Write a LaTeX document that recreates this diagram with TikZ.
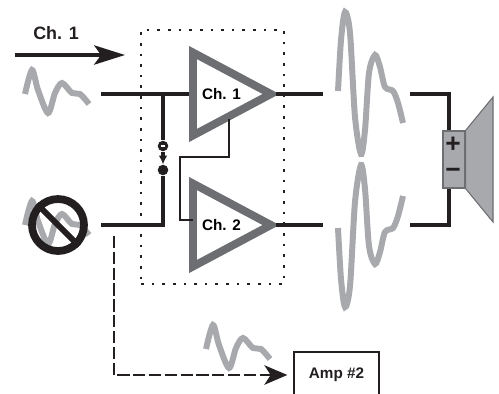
\documentclass[tikz,border=0pt]{standalone}
\usepackage{fontspec}
\setmainfont{Liberation Sans}
\usetikzlibrary{arrows.meta,positioning,shapes.geometric}
\definecolor{wiregray}{HTML}{231F20}
\definecolor{ampgray}{HTML}{6D6E71}
\definecolor{wavegray}{HTML}{A7A9AC}
\newcommand{\smallwave}{plot[smooth] coordinates {(25,94) (32,70) (38,90) (48,113) (55,93) (62,83) (72,93) (80,94) (89,104)}}
\newcommand{\bigwave}{plot[smooth] coordinates {(338,91) (341,40) (345,12) (350,33) (355,117) (361,154) (365,130) (369,73) (375,55) (380,67) (385,87) (393,91) (398,103) (403,123)}}

\begin{document}
\begin{tikzpicture}[
    x=0.02cm, y=-0.02cm,
    wire/.style={draw=wiregray, line width=1.8pt},
    thinwire/.style={draw=wiregray, line width=1.2pt},
    wave/.style={draw=wavegray, line width=3.4pt},
    ampbox/.style={draw=ampgray, line width=4.5pt, isosceles triangle, isosceles triangle stretches, shape border rotate=0, minimum width=1.66cm, minimum height=1.56cm, inner sep=0pt, anchor=lower side, font=\bfseries\fontsize{8.7}{10}\selectfont},
    term/.style={circle, fill=wiregray, minimum size=6pt, inner sep=0pt},
    lbl/.style={font=\bfseries\fontsize{10.2}{12}\selectfont, text=wiregray},
    sign/.style={font=\bfseries\fontsize{15}{15}\selectfont, text=wiregray, inner sep=0pt}
]
\clip (0,0) rectangle (499,393);

% input waves
\draw[wave] \smallwave;
\draw[wave, shift={(0,131)}] \smallwave;
\draw[wave, shift={(181,255)}] \smallwave;

% output waves
\draw[wave] \bigwave;
\draw[wave, shift={(0,319)}, yscale=-1] \bigwave;

% dotted frame
\node[draw=wiregray, line width=1.5pt, dash pattern=on 1.5pt off 4.55pt, minimum width=2.86cm, minimum height=5.08cm, inner sep=0pt] (frame) at (212.5,157) {};

% channel arrow
\node[lbl] (ch1) at (56,33) {Ch. 1};
\coordinate (arrowin) at (15,55);
\coordinate (arrowout) at (125,55);
\draw[wire, -{Stealth[length=17.6pt, width=11pt, inset=4pt]}] (arrowin) -- (arrowout);

% amplifiers
\node[ampbox] (amp1) at (189,94) {Ch. 1};
\node[ampbox] (amp2) at (189,225) {Ch. 2};

% input wires
\coordinate (in1) at (101,94);
\coordinate (in2) at (101,225);
\coordinate (joint1) at (163,94);
\coordinate (joint2) at (163,225);
\node[term] (sw1) at (163,146) {};
\node[term] (sw2) at (163,170) {};
\draw[wire] (in1) -- (amp1.lower side);
\draw[wire] (in2) -- (joint2) -- (sw2);
\draw[wire] (joint1) -- (sw1);
\draw[wire, -{Latex[length=5pt, width=5pt]}] (sw1) -- (sw2);
\draw[white, line width=0.7pt] ([xshift=-1pt]sw1.center) -- ([xshift=1pt]sw1.center);

% link between amps
\coordinate (link1) at (229,119);
\coordinate (link2) at (229,157);
\coordinate (link3) at (180,157);
\coordinate (link4) at (180,220);
\coordinate (link5) at (193,220);
\draw[thinwire] (link1) -- (link2) -- (link3) -- (link4) -- (link5);

% speaker
\node[draw=ampgray, fill=wavegray, line width=0.8pt, minimum width=0.44cm, minimum height=1.14cm, inner sep=0pt] (coil) at (454,159.5) {};
\node[sign] (plus) at (453,145) {+};
\node[sign] (minus) at (453,173) {\textminus};
\coordinate (cone1) at (493,97);
\coordinate (cone2) at (493,222);
\draw[draw=ampgray, fill=wavegray, line width=0.6pt] (coil.north east) -- (cone1) -- (cone2) -- (coil.south east) -- cycle;

% output wires
\coordinate (out1a) at (323,94);
\coordinate (out1b) at (410,94);
\coordinate (out1c) at (449,94);
\coordinate (out2a) at (323,225);
\coordinate (out2b) at (410,225);
\coordinate (out2c) at (449,225);
\draw[wire, shorten <=-3pt] (amp1.apex) -- (out1a);
\draw[wire, shorten <=-3pt] (amp2.apex) -- (out2a);
\draw[wire] (out1b) -- (out1c) -- (coil.north -| out1c);
\draw[wire] (out2b) -- (out2c) -- (coil.south -| out2c);

% muted input
\node[circle, draw=wiregray, line width=4.4pt, minimum size=1.04cm, inner sep=0pt] (mute) at (58,225) {};
\draw[wiregray, line width=3.4pt] (mute.north west) -- (mute.south east);

% second amp feed
\coordinate (feed1) at (114,236);
\coordinate (feed2) at (114,375);
\node[draw=wiregray, line width=1.6pt, minimum width=1.7cm, minimum height=0.92cm, inner sep=0pt, font=\bfseries\fontsize{8.7}{10}\selectfont, text=wiregray] (amp3) at (336.5,375) {Amp \#2};
\draw[draw=wiregray, line width=1.65pt, dash pattern=on 7pt off 2pt, -{Stealth[length=13pt, width=11pt, inset=3.5pt]}, shorten >=3pt] (feed1) -- (feed2) -- (amp3.west);
\end{tikzpicture}
\end{document}
